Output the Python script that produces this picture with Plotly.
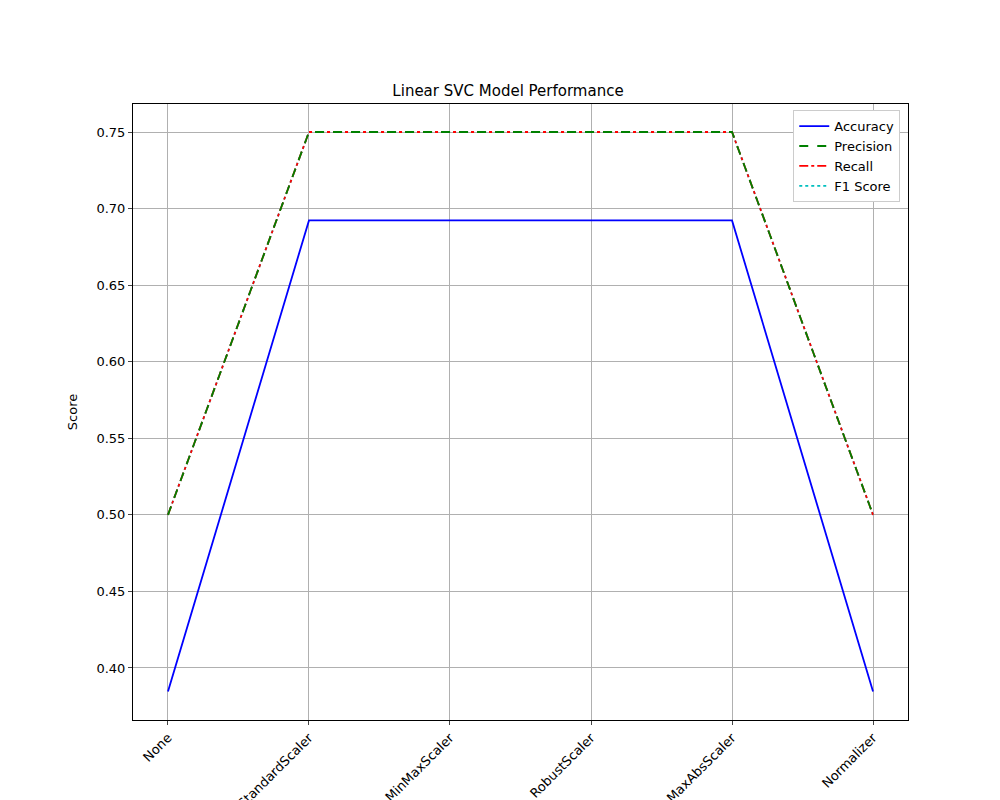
import plotly.graph_objects as go

scalers = ['None', 'StandardScaler', 'MinMaxScaler', 'RobustScaler', 'MaxAbsScaler', 'Normalizer']
accuracy = [0.3846, 0.6923, 0.6923, 0.6923, 0.6923, 0.3846]
precision = [0.5, 0.75, 0.75, 0.75, 0.75, 0.5]
recall = [0.5, 0.75, 0.75, 0.75, 0.75, 0.5]
f1 = [0.5, 0.75, 0.75, 0.75, 0.75, 0.5]

xs = list(range(len(scalers)))
fig = go.Figure()
fig.add_trace(go.Scatter(x=xs, y=accuracy, mode='lines', name='Accuracy', line=dict(color='blue', width=1.8)))
fig.add_trace(go.Scatter(x=xs, y=f1, mode='lines', name='F1 Score', line=dict(color='#00bfbf', width=1.8, dash='dot'), legendrank=4))
fig.add_trace(go.Scatter(x=xs, y=recall, mode='lines', name='Recall', line=dict(color='red', width=1.8, dash='dashdot'), legendrank=3))
fig.add_trace(go.Scatter(x=xs, y=precision, mode='lines', name='Precision', line=dict(color='green', width=1.8, dash='dash'), legendrank=2))
fig.data[0].legendrank = 1

fig.update_layout(
    width=1000, height=800,
    paper_bgcolor='white', plot_bgcolor='white',
    font=dict(family='DejaVu Sans', size=13, color='black'),
    title=dict(text='Linear SVC Model Performance', x=0.5, xanchor='center', y=0.897, yanchor='middle', font=dict(size=15)),
    margin=dict(l=125, r=100, t=96, b=88, autoexpand=False),
    showlegend=True,
    legend=dict(x=0.99, y=0.99, xanchor='right', yanchor='top', bgcolor='white',
                bordercolor='#cccccc', borderwidth=1, font=dict(size=13)),
    xaxis=dict(tickmode='array', tickvals=xs, ticktext=scalers, tickangle=-45, automargin=False,
               range=[-0.248, 5.248], showgrid=True, gridcolor='#b0b0b0', zeroline=False,
               showline=True, linecolor='black', mirror=True, ticks='outside', ticklen=4),
    yaxis=dict(title=dict(text='Score', font=dict(size=13)), range=[0.366, 0.7683], dtick=0.05, tickformat='.2f',
               automargin=False,
               showgrid=True, gridcolor='#b0b0b0', zeroline=False,
               showline=True, linecolor='black', mirror=True, ticks='outside', ticklen=4),
)
fig.write_html("out.html")
